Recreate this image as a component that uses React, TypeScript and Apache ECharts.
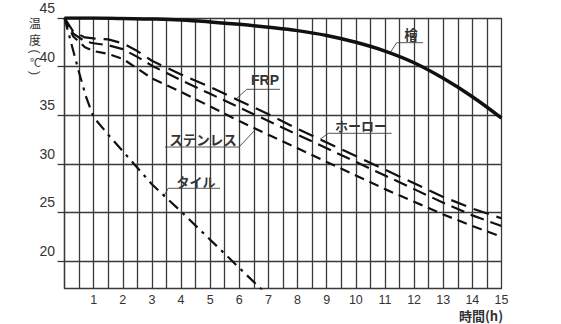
import React, { useEffect, useRef } from "react";
import * as echarts from "echarts";

// ---- data ----
const yTickValues = [20, 25, 30, 35, 40, 45];
const xLabelHours = [1, 2, 3, 4, 5, 6, 7, 8, 9, 10, 11, 12, 13, 14, 15];

const hinokiHours = [0, 1, 2, 3, 4, 5, 6, 7, 8, 9, 10, 11, 12, 13, 14, 15];
const hinokiTemps = [45, 45, 44.95, 44.9, 44.8, 44.6, 44.35, 44.05, 43.7, 43.2, 42.5, 41.6, 40.4, 38.8, 36.9, 34.7];

const dashedHours = [0, 0.3, 0.7, 1, 1.5, 2, 2.5, 3, 4, 5, 6, 7, 8, 9, 10, 11, 12, 13, 14, 15];
const frpTemps = [45, 43.6, 43.0, 42.9, 42.8, 42.4, 41.6, 40.6, 39.2, 37.9, 36.5, 35.1, 33.6, 32.2, 30.8, 29.4, 28.0, 26.6, 25.4, 24.4];
const horoTemps = [45, 43.4, 42.6, 42.4, 42.2, 41.8, 41.0, 40.1, 38.6, 37.2, 35.8, 34.4, 33.0, 31.6, 30.2, 28.8, 27.4, 26.0, 24.7, 23.6];
const stainlessTemps = [45, 43.1, 42.0, 41.6, 41.3, 40.8, 39.8, 38.8, 37.4, 35.9, 34.4, 33.0, 31.6, 30.2, 28.8, 27.4, 26.1, 24.8, 23.6, 22.5];

const tileHours = [0, 0.25, 0.5, 0.75, 1, 1.5, 2, 3, 4, 5, 6, 7];
const tileTemps = [45, 42.2, 39.4, 36.8, 34.8, 33.0, 31.3, 27.9, 25.1, 22.2, 19.3, 16.4];

const zip = (xs: number[], ys: number[]) => xs.map((x, i) => [x, ys[i]]);

const INK = "#111";
const GRID = "#3a3a3a";
const TXT = "#333";
const LBL_FONT = "'Noto Sans CJK JP', 'Noto Sans', sans-serif";
const NUM_FONT = "'Liberation Sans', Arial, sans-serif";

export default function App() {
  const ref = useRef<HTMLDivElement>(null);
  useEffect(() => {
    if (!ref.current) return;
    const chart = echarts.init(ref.current, null, { renderer: "svg" });
    const labelText = (
      x: number,
      y: number,
      text: string,
      size = 13,
      bold = true,
      font = LBL_FONT,
      rotation = 0,
      lineHeight = size
    ) => ({
      type: "text",
      x,
      y,
      rotation,
      style: {
        text,
        fill: TXT,
        font: `${bold ? "bold " : ""}${size}px ${font}`,
        lineHeight,
        textAlign: "center",
        textVerticalAlign: "middle",
      },
    });
    const leader = (pts: number[][]) => ({
      type: "polyline",
      shape: { points: pts },
      style: { stroke: "#555", lineWidth: 1, fill: "none" },
    });
    chart.setOption({
      animation: false,
      backgroundColor: "#fff",
      grid: { left: 64.5, right: 59.5, top: 18, bottom: 35.7, containLabel: false },
      xAxis: {
        type: "value",
        min: 0,
        max: 15,
        interval: 0.5,
        axisLine: { show: true, lineStyle: { color: GRID, width: 1.3 } },
        axisTick: { show: false },
        axisLabel: {
          margin: 5,
          color: TXT,
          fontSize: 12.5,
          fontFamily: NUM_FONT,
          formatter: (v: number) => (xLabelHours.indexOf(v) >= 0 ? String(v) : ""),
        },
        splitLine: { show: true, lineStyle: { color: GRID, width: 1.3 } },
      },
      yAxis: {
        type: "value",
        min: 17.2,
        max: 45,
        axisLine: { show: true, lineStyle: { color: GRID, width: 1.3 } },
        axisTick: { show: true, length: 7, customValues: yTickValues, lineStyle: { color: GRID, width: 1.3 } },
        axisLabel: {
          customValues: yTickValues,
          margin: 9.5,
          color: TXT,
          fontSize: 14,
          fontFamily: NUM_FONT,
          verticalAlign: "bottom",
          lineHeight: 14,
          padding: [0, 0, 3, 0],
        },
        splitLine: { show: true, lineStyle: { color: GRID, width: 1.3 } },
      },
      series: [
        {
          name: "檜",
          type: "line",
          data: zip(hinokiHours, hinokiTemps),
          smooth: 0.4,
          symbol: "none",
          lineStyle: { color: INK, width: 3.5 },
          z: 5,
        },
        {
          name: "FRP",
          type: "line",
          data: zip(dashedHours, frpTemps),
          symbol: "none",
          lineStyle: { color: INK, width: 2.2, type: [16, 8] },
          z: 4,
        },
        {
          name: "ホーロー",
          type: "line",
          data: zip(dashedHours, horoTemps),
          symbol: "none",
          lineStyle: { color: INK, width: 2.2, type: [14, 7], dashOffset: 6 },
          z: 4,
        },
        {
          name: "ステンレス",
          type: "line",
          data: zip(dashedHours, stainlessTemps),
          symbol: "none",
          lineStyle: { color: INK, width: 2.2, type: [10, 6] },
          z: 4,
        },
        {
          name: "タイル",
          type: "line",
          data: zip(tileHours, tileTemps),
          symbol: "none",
          clip: true,
          lineStyle: { color: INK, width: 2.2, type: [12, 6, 3, 6] },
          z: 4,
        },
      ],
      graphic: [
        // y-axis title
        labelText(35, 22, "温", 12, false),
        labelText(35, 39.5, "度", 12, false),
        labelText(35, 51.5, "(", 12, false, NUM_FONT, -Math.PI / 2),
        labelText(35.5, 62, "℃", 11, false),
        labelText(35, 73, ")", 12, false, NUM_FONT, -Math.PI / 2),
        // x-axis title
        labelText(481, 315, "時間(h)", 13, true),
        // series labels
        labelText(411, 34, "檜", 13.5, true),
        leader([[423, 42.7], [396.7, 42.7], [390, 53]]),
        labelText(265, 80, "FRP", 14, true, NUM_FONT),
        leader([[280, 89.3], [246.7, 89.3], [235, 100]]),
        labelText(203, 139, "ステンレス", 13.5, true),
        leader([[165, 147], [239, 147], [255, 130]]),
        labelText(361, 125, "ホーロー", 13, true),
        leader([[391.7, 133.3], [328.3, 133.3], [320, 139.3]]),
        labelText(196, 181, "タイル", 13, true),
        leader([[220, 188.3], [168.3, 188.3], [163.3, 196.7]]),
      ],
    });
    return () => chart.dispose();
  }, []);
  return (
    <div
      ref={ref}
      style={{ position: "fixed", left: 0, top: 0, width: 561, height: 324, background: "#fff" }}
    />
  );
}
